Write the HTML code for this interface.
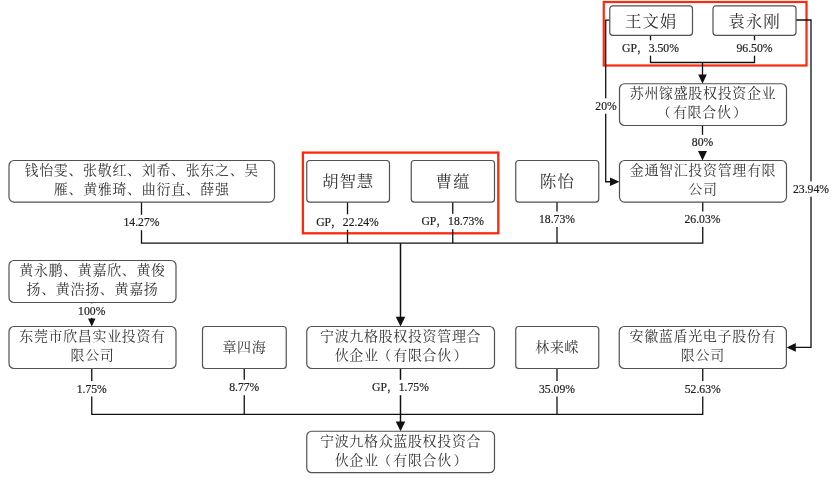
<!DOCTYPE html>
<html lang="zh-CN">
<head>
<meta charset="utf-8">
<title>股权结构图</title>
<style>
html,body{margin:0;padding:0;background:#fff;}
body{width:832px;height:480px;overflow:hidden;}
svg{display:block;will-change:transform;}
.bx{fill:#fff;stroke:#525252;stroke-width:1.2;}
.rd{fill:none;stroke:#fb2a0c;}
.ln{fill:none;stroke:#111;stroke-width:1.3;}
.lk{fill:none;stroke:#111;stroke-width:1.5;}
.ah{fill:#111;stroke:none;}
.bg{fill:#fff;stroke:none;}
.t{font-family:"Liberation Serif","Noto Serif CJK SC",serif;fill:#333;text-anchor:middle;}
.s{font-size:14.0px;letter-spacing:0.67px;}
.b{font-size:16.6px;letter-spacing:0.9px;}
.l{font-family:"Liberation Serif","Noto Serif CJK SC",serif;fill:#1e1e1e;stroke:#1e1e1e;stroke-width:0.2;text-anchor:middle;font-size:11.7px;}
</style>
</head>
<body>
<svg width="832" height="480" viewBox="0 0 832 480">
<rect class="rd" x="302.9" y="152.6" width="195.40000000000003" height="80.70000000000002" stroke-width="2.3"/>
<rect class="rd" x="603.75" y="2" width="202.75" height="63.5" stroke-width="2.2"/>
<polyline class="ln" points="141.5,202.1 141.5,243.2 702.75,243.2 702.75,202.1"/>
<polyline class="ln" points="347.5,202.1 347.5,243.2"/>
<polyline class="ln" points="452.75,202.1 452.75,243.2"/>
<polyline class="ln" points="557,202.1 557,243.2"/>
<polyline class="ln" points="91.75,302.5 91.75,320"/>
<polyline class="ln" points="91.75,368.5 91.75,414.4 702.75,414.4 702.75,368.5"/>
<polyline class="ln" points="244.25,368.5 244.25,414.4"/>
<polyline class="ln" points="557,368.5 557,414.4"/>
<polyline class="ln" points="650.5,35.5 650.5,62.5 754.5,62.5 754.5,35.5"/>
<polyline class="ln" points="702.5,62.5 702.5,77"/>
<polyline class="ln" points="702.5,125.5 702.5,137"/>
<polyline class="ln" points="609.75,20.2 605.7,20.2 605.7,181.75 612,181.75"/>
<polyline class="ln" points="796,20 811,20 811,347.4 795,347.4"/>
<polyline class="lk" points="400.5,243.2 400.5,318"/>
<polyline class="lk" points="400.5,368.5 400.5,423"/>
<polygon class="ah" points="91.75,326.5 88.0,318.5 95.5,318.5"/>
<polygon class="ah" points="400.5,326.5 395.75,316.7 405.25,316.7"/>
<polygon class="ah" points="400.5,431.25 395.75,421.45 405.25,421.45"/>
<polygon class="ah" points="702.5,83.75 698.2,74.55 706.8,74.55"/>
<polygon class="ah" points="702.5,160.5 698.0,150.9 707.0,150.9"/>
<polygon class="ah" points="619.5,181.75 610.0,177.5 610.0,186.0"/>
<polygon class="ah" points="786.6,347.4 795.8000000000001,343.025 795.8000000000001,351.775"/>
<rect class="bx" x="9" y="160.5" width="265.5" height="41.599999999999994" rx="5"/>
<text class="t s" transform="translate(141.75 170.05) scale(1 0.95)" x="0" y="5.04">钱怡雯、张敬红、刘希、张东之、吴</text>
<text class="t s" transform="translate(141.75 189.35) scale(1 0.95)" x="0" y="5.04">雁、黄雅琦、曲衍直、薛强</text>
<rect class="bx" x="9" y="260.5" width="167" height="42.0" rx="5"/>
<text class="t s" transform="translate(92.50 270.25) scale(1 0.95)" x="0" y="5.04">黄永鹏、黄嘉欣、黄俊</text>
<text class="t s" transform="translate(92.50 289.55) scale(1 0.95)" x="0" y="5.04">扬、黄浩扬、黄嘉扬</text>
<rect class="bx" x="9" y="326.5" width="167" height="42.0" rx="5"/>
<text class="t s" transform="translate(92.50 336.25) scale(1 0.95)" x="0" y="5.04">东莞市欣昌实业投资有</text>
<text class="t s" transform="translate(92.50 355.55) scale(1 0.95)" x="0" y="5.04">限公司</text>
<rect class="bx" x="306.75" y="160.5" width="82.75" height="41.599999999999994" rx="3"/>
<text class="t b" transform="translate(348.12 181.00) scale(1 0.96)" x="0" y="5.98">胡智慧</text>
<rect class="bx" x="411.25" y="160.5" width="83.25" height="41.599999999999994" rx="3"/>
<text class="t b" transform="translate(452.88 181.00) scale(1 0.96)" x="0" y="5.98">曹蕴</text>
<rect class="bx" x="515.75" y="160.5" width="83.0" height="41.599999999999994" rx="3"/>
<text class="t b" transform="translate(557.25 181.00) scale(1 0.96)" x="0" y="5.98">陈怡</text>
<rect class="bx" x="609.75" y="5.9" width="82.75" height="29.450000000000003" rx="3"/>
<text class="t b" transform="translate(651.12 20.82) scale(1 0.96)" x="0" y="5.98">王文娟</text>
<rect class="bx" x="713" y="5.9" width="83" height="29.450000000000003" rx="3"/>
<text class="t b" transform="translate(754.50 20.82) scale(1 0.96)" x="0" y="5.98">袁永刚</text>
<rect class="bx" x="619.5" y="83.75" width="167.0" height="41.75" rx="5"/>
<text class="t s" transform="translate(703.00 93.38) scale(1 0.95)" x="0" y="5.04">苏州镓盛股权投资企业</text>
<text class="t s" transform="translate(703.75 112.68) scale(1 0.95)" x="0" y="5.04"><tspan dx="-1.5">（</tspan><tspan dx="1.5">有限合伙</tspan><tspan dx="1.5">）</tspan></text>
<rect class="bx" x="619.5" y="160.5" width="167.0" height="41.599999999999994" rx="5"/>
<text class="t s" transform="translate(703.00 170.05) scale(1 0.95)" x="0" y="5.04">金通智汇投资管理有限</text>
<text class="t s" transform="translate(703.00 189.35) scale(1 0.95)" x="0" y="5.04">公司</text>
<rect class="bx" x="202.5" y="326.5" width="83.75" height="42.0" rx="3"/>
<text class="t s" transform="translate(244.38 347.20) scale(1 0.95)" x="0" y="5.04">章四海</text>
<rect class="bx" x="306.75" y="326.5" width="187.75" height="42.0" rx="5"/>
<text class="t s" transform="translate(400.62 336.25) scale(1 0.95)" x="0" y="5.04">宁波九格股权投资管理合</text>
<text class="t s" transform="translate(401.38 355.55) scale(1 0.95)" x="0" y="5.04">伙企业<tspan dx="-1.5">（</tspan><tspan dx="1.5">有限合伙</tspan><tspan dx="1.5">）</tspan></text>
<rect class="bx" x="515.75" y="326.5" width="83.0" height="42.0" rx="3"/>
<text class="t s" transform="translate(557.25 347.20) scale(1 0.95)" x="0" y="5.04">林来嵘</text>
<rect class="bx" x="619.25" y="326.5" width="167.14999999999998" height="42.0" rx="5"/>
<text class="t s" transform="translate(702.83 336.25) scale(1 0.95)" x="0" y="5.04">安徽蓝盾光电子股份有</text>
<text class="t s" transform="translate(702.83 355.55) scale(1 0.95)" x="0" y="5.04">限公司</text>
<rect class="bx" x="306.75" y="431.25" width="187.75" height="41.44999999999999" rx="5"/>
<text class="t s" transform="translate(400.62 440.73) scale(1 0.95)" x="0" y="5.04">宁波九格众蓝股权投资合</text>
<text class="t s" transform="translate(401.38 460.02) scale(1 0.95)" x="0" y="5.04">伙企业<tspan dx="-1.5">（</tspan><tspan dx="1.5">有限合伙</tspan><tspan dx="1.5">）</tspan></text>
<rect class="bg" x="122.46" y="214.80" width="38.07" height="15.4"/>
<text class="l" x="141.50" y="226.30">14.27%</text>
<rect class="bg" x="315.14" y="214.30" width="64.72" height="15.4"/>
<text class="l" x="347.50" y="225.80">GP，22.24%</text>
<rect class="bg" x="420.39" y="213.80" width="64.72" height="15.4"/>
<text class="l" x="452.75" y="225.30">GP，18.73%</text>
<rect class="bg" x="537.96" y="211.55" width="38.07" height="15.4"/>
<text class="l" x="557.00" y="223.05">18.73%</text>
<rect class="bg" x="683.46" y="211.55" width="38.07" height="15.4"/>
<text class="l" x="702.50" y="223.05">26.03%</text>
<rect class="bg" x="77.10" y="303.40" width="29.30" height="14.4"/>
<text class="l" x="91.75" y="314.90">100%</text>
<rect class="bg" x="75.64" y="381.05" width="32.22" height="15.4"/>
<text class="l" x="91.75" y="392.55">1.75%</text>
<rect class="bg" x="228.14" y="379.80" width="32.22" height="15.4"/>
<text class="l" x="244.25" y="391.30">8.77%</text>
<rect class="bg" x="371.06" y="379.80" width="58.87" height="15.4"/>
<text class="l" x="400.50" y="391.30">GP，1.75%</text>
<rect class="bg" x="537.96" y="381.05" width="38.07" height="15.4"/>
<text class="l" x="557.00" y="392.55">35.09%</text>
<rect class="bg" x="683.71" y="381.05" width="38.07" height="15.4"/>
<text class="l" x="702.75" y="392.55">52.63%</text>
<rect class="bg" x="621.06" y="40.30" width="58.87" height="15.4"/>
<text class="l" x="650.50" y="51.80">GP，3.50%</text>
<rect class="bg" x="735.46" y="40.30" width="38.07" height="15.4"/>
<text class="l" x="754.50" y="51.80">96.50%</text>
<rect class="bg" x="690.78" y="134.80" width="23.45" height="15.4"/>
<text class="l" x="702.50" y="146.30">80%</text>
<rect class="bg" x="594.28" y="98.30" width="23.45" height="15.4"/>
<text class="l" x="606.00" y="109.80">20%</text>
<rect class="bg" x="791.96" y="181.30" width="38.07" height="15.4"/>
<text class="l" x="811.00" y="192.80">23.94%</text>
</svg>
</body>
</html>
